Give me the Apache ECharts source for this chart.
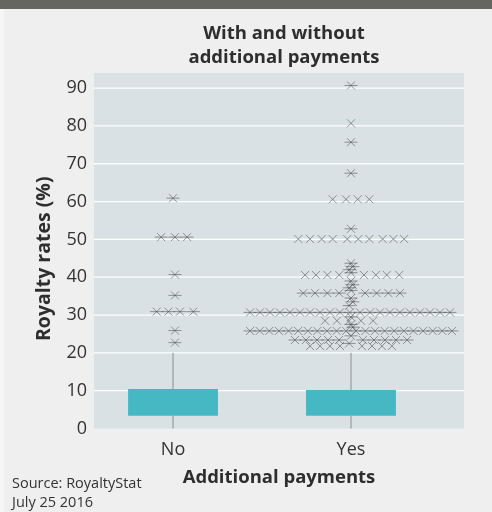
<!DOCTYPE html>
<html>
<head>
<meta charset="utf-8">
<script src="https://cdn.jsdelivr.net/npm/echarts@6/dist/echarts.min.js"></script>
<style>
html,body{margin:0;padding:0;background:#efefef;}
#wrap{width:492px;height:512px;position:relative;background:#efefef;overflow:hidden;}
#bar{position:absolute;left:0;top:0;width:492px;height:9px;background:#666661;}
#strip{position:absolute;left:0;top:9px;width:4px;height:503px;background:#f6f6f6;}
#chart{position:absolute;left:0;top:0;width:492px;height:512px;}
</style>
</head>
<body>
<div id="wrap"><div id="chart"></div><div id="bar"></div><div id="strip"></div></div>
<script>
// ---- data ----
const categories = ['No', 'Yes'];
const yTicks = [0, 10, 20, 30, 40, 50, 60, 70, 80, 90];
// [position, low, q1, median, q3, high]
const boxNo  = [1, 0, 3.4, 5, 10.45, 20];
const boxYes = [2, 0, 3.4, 5, 10.2, 20];
// outliers: [jitter offset from category, value]
const noAsterisk = [
  [0, 60.9], [-0.067, 50.6], [0.011, 50.6], [0.079, 50.6], [0.011, 40.7], [0.011, 35.2],
  [-0.092, 30.9], [-0.026, 30.9], [0.039, 30.9], [0.114, 30.9], [0.011, 25.9], [0.011, 22.7]
];
const yesPlain = [
  [0, 80.7],
  [-0.103, 60.6], [-0.028, 60.6], [0.038, 60.6], [0.103, 60.6],
  [-0.296, 50.1], [-0.230, 50.1], [-0.165, 50.1], [-0.103, 50.1], [-0.021, 50.1],
  [0.041, 50.1], [0.103, 50.1], [0.178, 50.1], [0.238, 50.1], [0.299, 50.1],
  [-0.258, 40.6], [-0.197, 40.6], [-0.133, 40.6], [-0.066, 40.6],
  [0.073, 40.6], [0.140, 40.6], [0.201, 40.6], [0.271, 40.6],
  [-0.146, 28.5], [-0.079, 28.5], [-0.011, 28.5], [0.056, 28.5], [0.124, 28.5],
  [-0.230, 21.8], [-0.174, 21.8], [-0.118, 21.8], [-0.062, 21.8],
  [0.062, 21.8], [0.118, 21.8], [0.174, 21.8], [0.230, 21.8]
];
const yesAsterisk = [
  [0, 90.7], [0, 75.7], [0, 67.5], [0, 52.8],
  [0, 43.7], [0.01, 42.8], [-0.01, 42], [0, 41.2], [0, 39], [0.01, 38], [-0.01, 37.2],
  [0, 36.5], [0, 34.5], [0.01, 33.5], [-0.01, 32.5], [0, 29.5], [0, 27.5], [0.01, 26.8],
  [0, 24.5], [-0.01, 22.5],
  [-0.268, 35.8], [-0.202, 35.8], [-0.133, 35.8], [-0.066, 35.8],
  [0.079, 35.8], [0.144, 35.8], [0.210, 35.8], [0.275, 35.8],
  [-0.567, 30.7], [-0.511, 30.7], [-0.455, 30.7], [-0.399, 30.7], [-0.343, 30.7],
  [-0.287, 30.7], [-0.230, 30.7], [-0.174, 30.7], [-0.118, 30.7], [-0.062, 30.7],
  [-0.006, 30.7], [0.051, 30.7], [0.107, 30.7], [0.163, 30.7], [0.219, 30.7],
  [0.275, 30.7], [0.331, 30.7], [0.388, 30.7], [0.444, 30.7], [0.500, 30.7], [0.556, 30.7],
  [-0.567, 25.8], [-0.513, 25.8], [-0.459, 25.8], [-0.405, 25.8], [-0.351, 25.8],
  [-0.297, 25.8], [-0.243, 25.8], [-0.189, 25.8], [-0.135, 25.8], [-0.081, 25.8],
  [-0.027, 25.8], [0.027, 25.8], [0.081, 25.8], [0.135, 25.8], [0.189, 25.8],
  [0.243, 25.8], [0.297, 25.8], [0.351, 25.8], [0.405, 25.8], [0.459, 25.8],
  [0.513, 25.8], [0.567, 25.8],
  [-0.315, 23.4], [-0.253, 23.4], [-0.191, 23.4], [-0.129, 23.4], [-0.067, 23.4],
  [0.067, 23.4], [0.129, 23.4], [0.191, 23.4], [0.253, 23.4], [0.315, 23.4]
];

// ---- build ----
const FONT = '"Open Sans"';
const xMin = 0.556, xMax = 2.635;
const boxWidth = 0.505;
const plainPts = yesPlain.map(d => [2 + d[0], d[1]]);
const astPts = noAsterisk.map(d => [1 + d[0], d[1]]).concat(yesAsterisk.map(d => [2 + d[0], d[1]]));
const markColor = 'rgba(70,70,70,0.6)';

function crossItem(params, api, withBar) {
  const p = api.coord([api.value(0), api.value(1)]);
  const s = 4;
  const ch = [
    {type: 'line', shape: {x1: p[0]-s, y1: p[1]-s, x2: p[0]+s, y2: p[1]+s}, style: {stroke: markColor, lineWidth: 0.9}},
    {type: 'line', shape: {x1: p[0]-s, y1: p[1]+s, x2: p[0]+s, y2: p[1]-s}, style: {stroke: markColor, lineWidth: 0.9}}
  ];
  if (withBar) ch.push({type: 'line', shape: {x1: p[0]-6.5, y1: p[1], x2: p[0]+6.5, y2: p[1]}, style: {stroke: markColor, lineWidth: 0.9}});
  return {type: 'group', children: ch};
}

const chart = echarts.init(document.getElementById('chart'), null, {renderer: 'canvas'});
chart.setOption({
  animation: false,
  backgroundColor: 'transparent',
  title: {
    text: 'With and without\nadditional payments',
    left: 279, top: 17, textAlign: 'center',
    textStyle: {fontFamily: FONT, fontWeight: 'bold', fontSize: 18.5, lineHeight: 24, color: '#2e2e2e'}
  },
  grid: {left: 94, top: 73, right: 28, bottom: 83.5, show: true, backgroundColor: '#d9e1e4', borderWidth: 0},
  xAxis: {
    type: 'value', min: xMin, max: xMax,
    name: 'Additional payments', nameLocation: 'middle', nameGap: 40,
    nameTextStyle: {fontFamily: FONT, fontWeight: 'bold', fontSize: 18.5, color: '#2e2e2e'},
    axisLine: {show: false}, axisTick: {show: false}, splitLine: {show: false},
    axisLabel: {customValues: [1, 2], formatter: v => categories[Math.round(v) - 1], fontFamily: FONT, fontSize: 18, color: '#333', margin: 12}
  },
  yAxis: {
    type: 'value', min: 0, max: 94,
    name: 'Royalty rates (%)', nameLocation: 'middle', nameGap: 40,
    nameTextStyle: {fontFamily: FONT, fontWeight: 'bold', fontSize: 19.5, color: '#2e2e2e', padding: [0, 16, 0, 0]},
    axisLine: {show: false}, axisTick: {show: false}, splitLine: {show: false},
    axisLabel: {customValues: yTicks, fontFamily: FONT, fontSize: 18, color: '#333', margin: 7}
  },
  graphic: [{
    type: 'text', left: 12, top: 474,
    style: {text: 'Source: RoyaltyStat\nJuly 25 2016', font: '14.5px ' + FONT, lineHeight: 19, fill: '#333'}
  }],
  series: [
    {
      type: 'custom', z: 1, silent: true,
      data: yTicks.filter(v => v > 0).map(v => [v]),
      encode: {y: 0},
      renderItem: (params, api) => {
        const a = api.coord([xMin, api.value(0)]);
        const b = api.coord([xMax, api.value(0)]);
        return {type: 'line', shape: {x1: a[0], y1: a[1], x2: b[0], y2: b[1]}, style: {stroke: '#ffffff', lineWidth: 1.3}};
      }
    },
    {
      type: 'custom', z: 2, silent: true,
      data: [boxNo, boxYes],
      encode: {x: 0, y: [1, 2, 3, 4, 5]},
      renderItem: (params, api) => {
        const x = api.value(0);
        const lo = api.coord([x, api.value(1)]);
        const q1 = api.coord([x, api.value(2)]);
        const q3 = api.coord([x, api.value(4)]);
        const hi = api.coord([x, api.value(5)]);
        const w = api.size([boxWidth, 0])[0];
        return {type: 'group', children: [
          {type: 'line', shape: {x1: lo[0], y1: lo[1], x2: q1[0], y2: q1[1]}, style: {stroke: '#8a8f91', lineWidth: 1}},
          {type: 'line', shape: {x1: q3[0], y1: q3[1], x2: hi[0], y2: hi[1]}, style: {stroke: '#8a8f91', lineWidth: 1}},
          {type: 'rect', shape: {x: q3[0] - w/2, y: q3[1], width: w, height: q1[1] - q3[1]}, style: {fill: '#45b8c4'}}
        ]};
      }
    },
    {
      type: 'custom', z: 3, silent: true,
      data: plainPts, encode: {x: 0, y: 1},
      renderItem: (p, api) => crossItem(p, api, false)
    },
    {
      type: 'custom', z: 3, silent: true,
      data: astPts, encode: {x: 0, y: 1},
      renderItem: (p, api) => crossItem(p, api, true)
    }
  ]
});
</script>
</body>
</html>
